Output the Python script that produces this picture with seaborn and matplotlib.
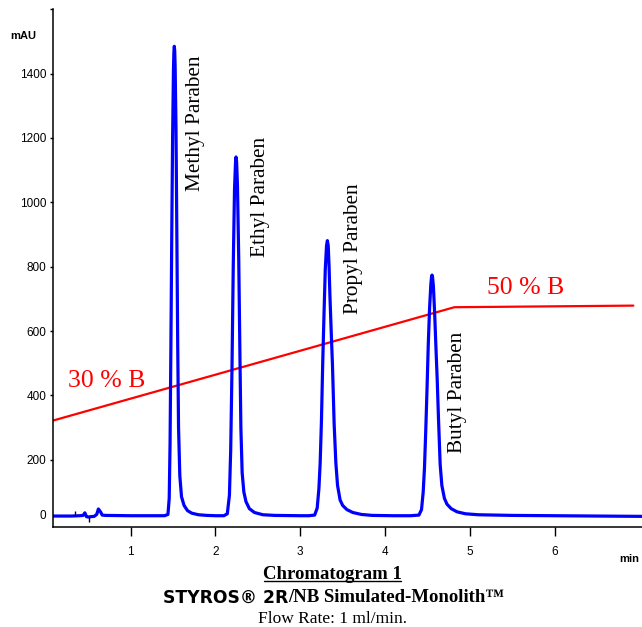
import matplotlib

matplotlib.use("Agg")
import matplotlib.pyplot as plt
import pandas as pd
import seaborn as sns

# trace, time in min and signal in mAU
start_time = [0.088, 0.30, 0.40, 0.44, 0.46, 0.48, 0.50, 0.53, 0.57, 0.60, 0.62, 0.645, 0.665, 0.70, 1.00, 1.30]
start_mau = [25, 25, 26, 27, 35, 23, 22, 23, 24, 30, 47, 38, 28, 27, 26, 26]

methyl_time = [1.40, 1.44, 1.455, 1.465, 1.475, 1.485, 1.495, 1.505, 1.51, 1.515, 1.52, 1.525,
               1.535, 1.545, 1.555, 1.565, 1.58, 1.60, 1.63, 1.67, 1.72, 1.80, 1.90, 2.00]
methyl_mau = [26, 30, 80, 250, 560, 900, 1200, 1410, 1465, 1485, 1470, 1420,
              1230, 900, 560, 300, 150, 85, 58, 42, 34, 29, 27, 26]

ethyl_time = [2.10, 2.14, 2.165, 2.18, 2.195, 2.21, 2.225, 2.237, 2.243, 2.25, 2.26,
              2.275, 2.29, 2.30, 2.315, 2.335, 2.36, 2.40, 2.46, 2.56, 2.70, 3.00]
ethyl_mau = [26, 32, 90, 230, 480, 800, 1040, 1125, 1141, 1125, 1050,
             820, 500, 300, 160, 100, 70, 48, 36, 29, 27, 26]

propyl_time = [3.10, 3.17, 3.20, 3.22, 3.235, 3.25, 3.265, 3.28, 3.295, 3.31, 3.32, 3.33, 3.34,
               3.35, 3.365, 3.38, 3.40, 3.42, 3.44, 3.47, 3.50, 3.55, 3.62, 3.72, 3.85, 4.10]
propyl_mau = [26, 28, 50, 110, 190, 320, 500, 650, 790, 865, 881, 865, 800,
              710, 600, 495, 310, 190, 120, 75, 58, 45, 36, 30, 27, 26]

butyl_time = [4.30, 4.40, 4.43, 4.45, 4.465, 4.48, 4.495, 4.51, 4.525, 4.54, 4.548, 4.554, 4.56,
              4.57, 4.585, 4.60, 4.615, 4.63, 4.65, 4.67, 4.70, 4.73, 4.78, 4.85, 4.95, 5.10,
              5.50, 6.00, 6.50, 7.03]
butyl_mau = [26, 28, 45, 100, 175, 290, 420, 560, 670, 745, 768, 774, 768,
             740, 655, 550, 450, 330, 185, 120, 80, 62, 48, 38, 32, 29,
             27, 26, 25, 24]

# % B gradient drawn on the mAU scale
gradient_time = [0.088, 4.817, 6.928]
gradient_mau = [322, 674, 679]

# peak names and where they are written
peak_names = ["Methyl Paraben", "Ethyl Paraben", "Propyl Paraben", "Butyl Paraben"]
name_time = [1.76, 2.526, 3.626, 4.857]
name_mau = [1036, 829, 653, 221]

gradient_labels = ["30 % B", "50 % B"]
gradient_label_time = [0.716, 5.66]
gradient_label_mau = [426, 715]

# injection / event marks on the baseline
event_time = [0.344, 0.513]
event_low = [26, 8]
event_high = [41, 23]

xtick_values = [1, 2, 3, 4, 5, 6]
ytick_values = [30, 200, 400, 600, 800, 1000, 1200, 1400, 1600]
ytick_labels = ["0", "200", "400", "600", "800", "1000", "1200", "1400", ""]


def main():
    trace = pd.DataFrame({
        "time": start_time + methyl_time + ethyl_time + propyl_time + butyl_time,
        "mAU": start_mau + methyl_mau + ethyl_mau + propyl_mau + butyl_mau,
    })
    gradient = pd.DataFrame({"time": gradient_time, "mAU": gradient_mau})

    sns.set_theme(style="white")
    plt.rcParams["font.family"] = ["Liberation Sans", "DejaVu Sans"]
    plt.rcParams["text.color"] = "black"

    fig = plt.figure(figsize=(6.42, 6.27), dpi=100)
    ax = fig.add_axes([0.083, 0.159, 0.917, 0.8262])

    sns.lineplot(data=gradient, x="time", y="mAU", ax=ax, color="#ff0000",
                 linewidth=1.6, sort=False, estimator=None)
    sns.lineplot(data=trace, x="time", y="mAU", ax=ax, color="#0000ff",
                 linewidth=2.3, sort=False, estimator=None)
    ax.vlines(event_time, event_low, event_high, color="black", linewidth=1)

    for name, t, y in zip(peak_names, name_time, name_mau):
        ax.text(t, y, name, rotation=90, ha="center", va="bottom",
                fontsize=15.3, family="Liberation Serif", color="black")
    for label, t, y in zip(gradient_labels, gradient_label_time, gradient_label_mau):
        ax.text(t, y, label, ha="center", va="baseline",
                fontsize=18.5, family="Liberation Serif", color="#ff0000")

    ax.set_xlim(0.088, 7.03)
    ax.set_ylim(-10, 1596)
    ax.set_xticks(xtick_values)
    ax.set_yticks(ytick_values)
    ax.set_yticklabels(ytick_labels)
    ax.set_xlabel("")
    ax.set_ylabel("")

    for side in ["top", "right"]:
        ax.spines[side].set_visible(False)
    for side in ["left", "bottom"]:
        ax.spines[side].set_color("black")
        ax.spines[side].set_linewidth(1.1)

    ax.tick_params(axis="x", direction="out", length=6.5, width=1, pad=7,
                   labelsize=8.5, colors="black", bottom=True)
    ax.tick_params(axis="y", direction="out", length=2.5, width=1, pad=2.5,
                   labelsize=8.5, colors="black", left=True)
    ax.yaxis.get_major_ticks()[0].tick1line.set_visible(False)

    fig.text(23 / 642, 1 - 36 / 627, "mAU", ha="center", va="center",
             fontsize=8, fontweight="bold")
    fig.text(629 / 642, 1 - 559 / 627, "min", ha="center", va="center",
             fontsize=8, fontweight="bold")

    # caption under the chart
    fig.text(332.7 / 642, 1 - 579 / 627, "Chromatogram 1", ha="center", va="baseline",
             fontsize=13.5, fontweight="bold", family="Liberation Serif")
    fig.add_artist(plt.Line2D([264 / 642, 401 / 642], [1 - 581 / 627, 1 - 581 / 627],
                              color="black", linewidth=1))
    fig.text(288.6 / 642, 1 - 602.5 / 627, "STYROS® 2R", ha="right", va="baseline",
             fontsize=12.3, fontweight="bold", family="DejaVu Sans")
    fig.text(288.6 / 642, 1 - 602.5 / 627, "/NB Simulated-Monolith™", ha="left",
             va="baseline", fontsize=13.5, fontweight="bold", family="Liberation Serif")
    fig.text(332.6 / 642, 1 - 623 / 627, "Flow Rate: 1 ml/min.", ha="center",
             va="baseline", fontsize=12.5, family="Liberation Serif")

    fig.savefig("out.png", dpi=100)


if __name__ == "__main__":
    main()
